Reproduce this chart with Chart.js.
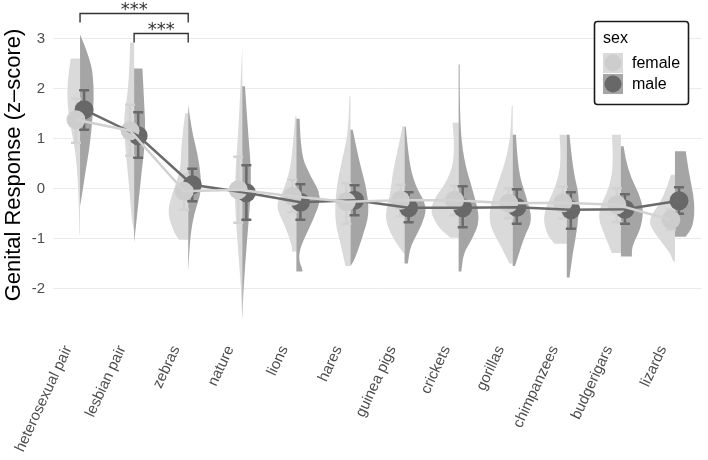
<!DOCTYPE html>
<html>
<head>
<meta charset="utf-8">
<script src="https://cdn.jsdelivr.net/npm/chart.js@4"></script>
<style>
  body { margin: 0; background: #fff; }
</style>
</head>
<body>
<canvas id="chart" width="708" height="460"></canvas>
<script>
const categories = ['heterosexual pair', 'lesbian pair', 'zebras', 'nature', 'lions', 'hares',
    'guinea pigs', 'crickets', 'gorillas', 'chimpanzees', 'budgerigars', 'lizards'];
const yTicks = [-2, -1, 0, 1, 2, 3];

// means and error bar limits per sex
const femaleMean = [1.38, 1.16, -0.05, -0.02, -0.15, -0.26, -0.23, -0.23, -0.29, -0.28, -0.32, -0.62];
const maleMean = [1.58, 1.06, 0.08, -0.08, -0.27, -0.23, -0.38, -0.38, -0.37, -0.42, -0.41, -0.24];
const femaleLo = [0.92, 0.66, -0.42, -0.68, -0.47, -0.70, -0.55, -0.53, -0.59, -0.59, -0.67, -0.82];
const femaleHi = [1.80, 1.68, 0.28, 0.64, 0.18, 0.11, 0.08, 0.06, 0.01, 0.04, 0.01, -0.42];
const maleLo = [1.18, 0.62, -0.25, -0.62, -0.62, -0.53, -0.67, -0.77, -0.70, -0.80, -0.70, -0.50];
const maleHi = [1.97, 1.53, 0.40, 0.47, 0.09, 0.07, -0.07, 0.05, -0.01, -0.07, -0.11, 0.03];

// violin outlines: [z-score, density] from top to bottom
const femaleViolin = [
    [[2.6, 9.3], [2.05, 13.7], [1.38, 11], [0.92, 6], [0.38, 2.7], [-0.28, 1.3], [-0.92, 0.5]],
    [[2.92, 4], [2.05, 5], [1.38, 11], [0.72, 8.3], [0.05, 5], [-0.62, 2.3], [-0.88, 0]],
    [[1.51, 3], [0.85, 7.3], [0.38, 7.3], [-0.15, 17], [-0.49, 20.7], [-0.89, 14], [-1.02, 9]],
    [[2.88, 0], [2.05, 1.7], [1.05, 4.3], [0.38, 6.7], [-0.15, 7.7], [-0.95, 5.3], [-1.95, 1.3], [-2.65, 0]],
    [[1.45, 1], [1.05, 2.7], [0.38, 6], [-0.09, 14], [-0.35, 21], [-0.75, 11], [-1.15, 4.3], [-1.25, 4.3]],
    [[1.85, 1], [1.18, 1.7], [0.58, 8.3], [0.05, 14], [-0.62, 16], [-1.15, 9.3], [-1.54, 5]],
    [[1.25, 2], [0.85, 6], [0.31, 12], [-0.09, 14], [-0.55, 20], [-0.89, 14.3], [-1.15, 6], [-1.28, 1]],
    [[1.32, 6], [0.71, 3.3], [0.18, 10], [-0.35, 30], [-0.75, 21.7], [-0.98, 8.3]],
    [[1.66, 1], [1.18, 1.7], [0.71, 5], [0.18, 13.3], [-0.35, 23], [-0.75, 23], [-1.15, 11.7], [-1.49, 3.3]],
    [[1.08, 7.3], [0.58, 5], [0.05, 10.7], [-0.49, 24], [-0.89, 20.7], [-1.1, 12.3]],
    [[1.08, 9], [0.58, 7.3], [0.05, 10.7], [-0.49, 24], [-0.89, 17.3], [-1.28, 9]],
    [[0.28, 4], [-0.22, 11.7], [-0.62, 28], [-0.95, 18.3], [-1.28, 5], [-1.45, 1.7]]
];
const maleViolin = [
    [[3.08, 0], [2.58, 10.7], [2.05, 14], [1.51, 13], [0.85, 9.7], [0.38, 5.7], [-0.08, 2.3], [-0.35, 0]],
    [[2.4, 8.3], [1.72, 10], [1.05, 11.7], [0.38, 7.7], [-0.28, 4.3], [-1.08, 0]],
    [[1.68, 0], [1.18, 3.3], [0.71, 9.3], [0.25, 12.7], [-0.09, 12.7], [-0.49, 6], [-0.95, 2], [-1.65, 0]],
    [[2.05, 2.7], [1.05, 6], [0.38, 9], [-0.28, 8], [-0.95, 5], [-1.95, 1.3], [-2.62, 0]],
    [[1.4, 3.3], [0.71, 4], [0.25, 14], [-0.15, 25.7], [-0.62, 17], [-1.15, 4], [-1.42, 2.3], [-1.6, 6], [-1.65, 6]],
    [[1.18, 2.3], [0.58, 8.3], [0.05, 15.7], [-0.49, 19], [-0.95, 12.3], [-1.42, 4], [-1.54, 0]],
    [[1.24, 1.3], [0.58, 4], [0.05, 10.7], [-0.35, 23], [-0.75, 17], [-1.15, 5.7], [-1.49, 3.3]],
    [[2.48, 1], [1.38, 1], [0.58, 5], [-0.09, 15], [-0.62, 21.7], [-1.02, 13.3], [-1.28, 5], [-1.65, 2.7]],
    [[1.08, 3.3], [0.38, 5], [-0.15, 13.3], [-0.62, 20], [-0.95, 11.7], [-1.54, 2.3]],
    [[1.08, 2.7], [0.38, 6], [-0.15, 12.7], [-0.75, 11], [-1.28, 6], [-1.77, 2.7]],
    [[0.85, 2.7], [0.38, 6], [-0.28, 22.7], [-0.75, 21], [-1.15, 11], [-1.35, 11]],
    [[0.75, 10.7], [0.38, 13.3], [-0.28, 20], [-0.75, 18.3], [-0.96, 10.7]]
];

// significance brackets: [from, to, bar height, tip height, label]
const brackets = [
    [0, 2, 3.5, 3.32, '***'],
    [1, 2, 3.1, 2.92, '***']
];

const DODGE = 0.075;
const DENSITY_SCALE = 1 / 54;
const FEMALE = { violin: '#dadada', point: '#cdcdcd', line: '#d2d2d2' };
const MALE = { violin: '#a5a5a5', point: '#686868', line: '#6a6a6a' };

Chart.defaults.font.family = "'Liberation Sans', Arial, sans-serif";

const violinPlugin = {
    id: 'violins',
    beforeDatasetsDraw(chart) {
        const ctx = chart.ctx;
        const xs = chart.scales.x, ys = chart.scales.y;

        function half(i, pts, side, color) {
            const cx = xs.getPixelForValue(i);
            const p = pts.map(([v, d]) => [xs.getPixelForValue(i + side * d * DENSITY_SCALE), ys.getPixelForValue(v)]);
            ctx.beginPath();
            ctx.moveTo(cx, p[0][1]);
            ctx.lineTo(p[0][0], p[0][1]);
            for (let k = 1; k < p.length - 1; k++) {
                const mx = (p[k][0] + p[k + 1][0]) / 2, my = (p[k][1] + p[k + 1][1]) / 2;
                ctx.quadraticCurveTo(p[k][0], p[k][1], mx, my);
            }
            ctx.lineTo(p[p.length - 1][0], p[p.length - 1][1]);
            ctx.lineTo(cx, p[p.length - 1][1]);
            ctx.closePath();
            ctx.fillStyle = color;
            ctx.fill();
        }

        function errorBar(x, lo, hi, color) {
            const px = xs.getPixelForValue(x);
            const y1 = ys.getPixelForValue(lo), y2 = ys.getPixelForValue(hi);
            ctx.strokeStyle = color;
            ctx.lineWidth = 2.5;
            ctx.beginPath();
            ctx.moveTo(px, y1); ctx.lineTo(px, y2);
            ctx.moveTo(px - 5, y1); ctx.lineTo(px + 5, y1);
            ctx.moveTo(px - 5, y2); ctx.lineTo(px + 5, y2);
            ctx.stroke();
        }

        ctx.save();
        categories.forEach((c, i) => {
            half(i, femaleViolin[i], -1, FEMALE.violin);
            half(i, maleViolin[i], 1, MALE.violin);
        });
        categories.forEach((c, i) => {
            errorBar(i - DODGE, femaleLo[i], femaleHi[i], FEMALE.line);
            errorBar(i + DODGE, maleLo[i], maleHi[i], MALE.line);
        });
        ctx.restore();
    },
    afterDatasetsDraw(chart) {
        const ctx = chart.ctx;
        const xs = chart.scales.x, ys = chart.scales.y;
        ctx.save();
        ctx.strokeStyle = '#333';
        ctx.lineWidth = 1.4;
        ctx.fillStyle = '#333';
        ctx.font = "18px 'DejaVu Sans', sans-serif";
        ctx.textAlign = 'center';
        ctx.textBaseline = 'alphabetic';
        brackets.forEach(([a, b, top, tip, label]) => {
            const x1 = xs.getPixelForValue(a), x2 = xs.getPixelForValue(b);
            const yt = ys.getPixelForValue(top), yb = ys.getPixelForValue(tip);
            ctx.beginPath();
            ctx.moveTo(x1, yb); ctx.lineTo(x1, yt); ctx.lineTo(x2, yt); ctx.lineTo(x2, yb);
            ctx.stroke();
            ctx.fillText(label, (x1 + x2) / 2, yt + 1);
        });
        ctx.restore();
    },
    afterDraw(chart) {
        // legend box, top right
        const ctx = chart.ctx;
        ctx.save();
        ctx.fillStyle = '#fff';
        ctx.strokeStyle = '#1a1a1a';
        ctx.lineWidth = 1.6;
        ctx.beginPath();
        ctx.roundRect(594.5, 21.5, 94, 83, 3);
        ctx.fill();
        ctx.stroke();
        ctx.fillStyle = '#000';
        ctx.font = "16px 'Liberation Sans', Arial, sans-serif";
        ctx.textBaseline = 'alphabetic';
        ctx.fillText('sex', 603, 43);
        [['female', FEMALE, 53], ['male', MALE, 74]].forEach(([name, s, y]) => {
            ctx.fillStyle = s.violin;
            ctx.fillRect(603, y, 20, 20);
            ctx.fillStyle = s.point;
            ctx.beginPath();
            ctx.arc(613, y + 10, 8.5, 0, Math.PI * 2);
            ctx.fill();
            ctx.fillStyle = '#000';
            ctx.textBaseline = 'middle';
            ctx.fillText(name, 632, y + 11);
        });
        ctx.restore();
    }
};

const pts = (means, shift) => means.map((m, i) => ({ x: i + shift, y: m }));

new Chart(document.getElementById('chart'), {
    type: 'scatter',
    data: {
        datasets: [
            { data: pts(femaleMean, -DODGE), showLine: true, borderColor: FEMALE.line, borderWidth: 2.5, pointRadius: 0 },
            { data: pts(maleMean, DODGE), showLine: true, borderColor: MALE.line, borderWidth: 2.5, pointRadius: 0 },
            { data: pts(femaleMean, -DODGE), pointRadius: 9.5, pointBackgroundColor: FEMALE.point, pointBorderWidth: 0 },
            { data: pts(maleMean, DODGE), pointRadius: 9.5, pointBackgroundColor: MALE.point, pointBorderWidth: 0 }
        ]
    },
    options: {
        responsive: false,
        animation: false,
        layout: { autoPadding: false, padding: { top: 1, right: 6, left: 0, bottom: 0 } },
        plugins: {
            legend: { display: false },
            tooltip: { enabled: false }
        },
        scales: {
            x: {
                type: 'linear',
                min: -0.5,
                max: 11.5,
                afterBuildTicks: (scale) => { scale.ticks = categories.map((c, i) => ({ value: i })); },
                afterFit: (scale) => {
                    scale.height = 131;
                    scale.paddingLeft = 0;
                    scale.paddingRight = 0;
                },
                grid: { display: false, drawTicks: false },
                border: { display: false },
                ticks: {
                    autoSkip: false,
                    minRotation: 65,
                    maxRotation: 65,
                    padding: 14,
                    labelOffset: -12,
                    color: '#4d4d4d',
                    font: { size: 15 },
                    callback: (v) => categories[v]
                }
            },
            y: {
                min: -2.8,
                max: 3.75,
                afterBuildTicks: (scale) => { scale.ticks = yTicks.map(v => ({ value: v })); },
                afterFit: (scale) => {
                    scale.width = 53;
                    scale.paddingTop = 0;
                    scale.paddingBottom = 0;
                },
                grid: { color: '#ebebeb', lineWidth: 1, drawTicks: false },
                border: { display: false },
                ticks: {
                    padding: 8,
                    color: '#4d4d4d',
                    font: { size: 15, lineHeight: 0.1 }
                },
                title: {
                    display: true,
                    text: 'Genital Response (z–score)',
                    color: '#000',
                    font: { size: 22 },
                    padding: { top: 1, bottom: 0 }
                }
            }
        }
    },
    plugins: [violinPlugin]
});
</script>
</body>
</html>
